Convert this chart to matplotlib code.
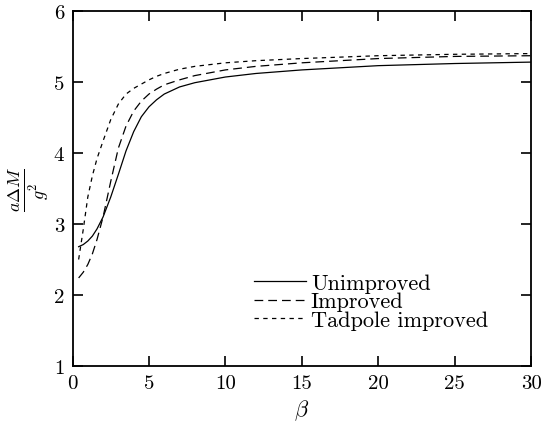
import matplotlib
matplotlib.use("Agg")
import matplotlib.pyplot as plt

plt.rcParams['font.family'] = 'serif'
plt.rcParams['font.serif'] = ['cmr10', 'DejaVu Serif']
plt.rcParams['mathtext.fontset'] = 'cm'
plt.rcParams['axes.unicode_minus'] = False

beta = [0.4, 0.7, 1.0, 1.3, 1.6, 2.0, 2.5, 3.0, 3.5, 4.0, 4.5, 5.0, 5.5,
        6.0, 7.0, 8.0, 10, 12, 15, 20, 25, 30]
unimproved = [2.68, 2.71, 2.76, 2.83, 2.93, 3.10, 3.38, 3.70, 4.03, 4.30,
              4.51, 4.65, 4.75, 4.83, 4.93, 4.99, 5.07, 5.12, 5.17, 5.23, 5.26, 5.28]
improved = [2.24, 2.32, 2.43, 2.58, 2.78, 3.10, 3.60, 4.07, 4.38, 4.59,
            4.73, 4.83, 4.90, 4.96, 5.03, 5.09, 5.17, 5.22, 5.27, 5.33, 5.36, 5.37]
tadpole = [2.50, 2.92, 3.38, 3.68, 3.92, 4.17, 4.47, 4.69, 4.83, 4.91,
           4.97, 5.03, 5.08, 5.12, 5.18, 5.22, 5.27, 5.30, 5.33, 5.37, 5.39, 5.40]

xticks = [0, 5, 10, 15, 20, 25, 30]
yticks = [1, 2, 3, 4, 5, 6]

fig = plt.figure(figsize=(5.42, 4.31), dpi=100)
ax = fig.add_axes([0.1338, 0.1485, 0.8462, 0.8237])

ax.plot(beta, unimproved, color='black', lw=0.9, linestyle='-', label='Unimproved')
ax.plot(beta, improved, color='black', lw=0.9, linestyle=(0, (7, 4)), label='Improved')
ax.plot(beta, tadpole, color='black', lw=0.9, linestyle=(0, (3.5, 3.5)), label='Tadpole improved')

ax.set_xlim(0, 30)
ax.set_ylim(1, 6)
ax.set_xticks(xticks)
ax.set_yticks(yticks)
ax.tick_params(direction='in', length=7, width=1.2, top=True, right=True,
               labelsize=15, pad=6)
for s in ax.spines.values():
    s.set_linewidth(1.3)

ax.set_xlabel(r'$\beta$', fontsize=16, labelpad=4)
ax.set_ylabel(r'$\frac{a\Delta M}{g^2}$', fontsize=18.5, labelpad=2)

leg = ax.legend(loc='lower right', bbox_to_anchor=(0.94, 0.058), frameon=False,
                fontsize=16, handlelength=2.35, handletextpad=0.2,
                labelspacing=-0.05, borderpad=0.2)

fig.savefig('out.png', dpi=100)
